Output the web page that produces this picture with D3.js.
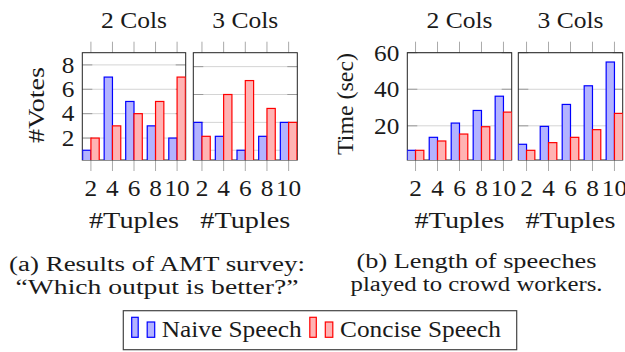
<!DOCTYPE html>
<html><head><meta charset="utf-8">
<script src="https://cdn.jsdelivr.net/npm/d3@7"></script>
<style>
html,body{margin:0;padding:0;background:#fff;}
</style></head>
<body><svg id="c" width="625" height="352"></svg>
<script>
// ---- data ----
const tuples = [2, 4, 6, 8, 10];
const panelTitles = ["2 Cols", "3 Cols"];
const seriesNames = ["Naive Speech", "Concise Speech"];
// (a) votes
const votes2Naive   = [1, 7, 5, 3, 2];
const votes2Concise = [2, 3, 4, 5, 7];
const votes3Naive   = [4, 3, 2, 3, 4];
const votes3Concise = [3, 6, 7, 5, 4];
const votesTicks2 = [2, 4, 6, 8];
const votesTicks3 = [2, 4, 6, 8];
// (b) time (sec)
const time2Naive   = [6.6, 13.7, 21.5, 28.4, 36.2];
const time2Concise = [6.6, 11.7, 15.5, 19.5, 27.5];
const time3Naive   = [9.9, 19.7, 31.7, 41.9, 54.9];
const time3Concise = [6.6, 10.8, 13.7, 17.9, 26.8];
const timeTicks = [20, 40, 60];
const captionA = ["(a) Results of AMT survey:", "\u201cWhich output is better?\u201d"];
const captionB = ["(b) Length of speeches", "played to crowd workers."];

const FONT = "'Liberation Serif', 'DejaVu Serif', serif";
const svg = d3.select("#c");
const BLUE = "#0000ff", BLUEF = "#b3b3ff", RED = "#ff0000", REDF = "#ffb3b3";
const FS = 23;
const pTop = 52.7, pBottom = 160;

function txt(sel) {
  return sel.style("font-family", FONT, "important").attr("font-family", FONT)
    .attr("fill", "#1a1a1a").attr("font-size", FS);
}
// stretch glyphs horizontally (Computer Modern is wider than Times)
function fitW(sel, w) {
  sel.each(function() {
    const L = this.getComputedTextLength();
    const target = (typeof w === "number") ? w : L * 1.1;
    if (L > 0) d3.select(this).attr("textLength", target).attr("lengthAdjust", "spacingAndGlyphs");
  });
  return sel;
}

function panel(id, x0, x1, xdom, ydom, ticks, naive, concise, showY) {
  const g = svg.append("g");
  const x = d3.scaleLinear().domain(xdom).range([x0, x1]);
  const y = d3.scaleLinear().domain(ydom).range([pBottom, pTop]);
  const bw = 8.3;
  g.append("clipPath").attr("id", id).append("rect")
    .attr("x", x0).attr("y", pTop).attr("width", x1 - x0).attr("height", pBottom - pTop);
  g.selectAll(".grid").data(ticks).join("line")
    .attr("x1", x0).attr("x2", x1).attr("y1", d => y(d)).attr("y2", d => y(d))
    .attr("stroke", "#d4d4d4").attr("stroke-width", 1);
  g.selectAll(".ytl").data(ticks).join("line")
    .attr("x1", x0).attr("x2", x0 + 10).attr("y1", d => y(d)).attr("y2", d => y(d))
    .attr("stroke", "#9a9a9a").attr("stroke-width", 1);
  g.selectAll(".ytr").data(ticks).join("line")
    .attr("x1", x1 - 10).attr("x2", x1).attr("y1", d => y(d)).attr("y2", d => y(d))
    .attr("stroke", "#9a9a9a").attr("stroke-width", 1);
  g.selectAll(".xtt").data(tuples).join("line")
    .attr("x1", d => x(d)).attr("x2", d => x(d)).attr("y1", pTop - 11).attr("y2", pTop)
    .attr("stroke", "#aaa").attr("stroke-width", 1);
  g.selectAll(".xtb").data(tuples).join("line")
    .attr("x1", d => x(d)).attr("x2", d => x(d)).attr("y1", pBottom).attr("y2", pBottom + 11)
    .attr("stroke", "#aaa").attr("stroke-width", 1);
  g.append("rect").attr("x", x0).attr("y", pTop).attr("width", x1 - x0).attr("height", pBottom - pTop)
    .attr("fill", "none").attr("stroke", "#222").attr("stroke-width", 1);
  const bars = g.append("g").attr("clip-path", `url(#${id})`);
  bars.selectAll(".bn").data(tuples).join("rect")
    .attr("x", d => x(d) - bw).attr("width", bw)
    .attr("y", (d, i) => y(naive[i])).attr("height", (d, i) => pBottom + 2 - y(naive[i]))
    .attr("fill", BLUEF).attr("stroke", BLUE).attr("stroke-width", 1.2);
  bars.selectAll(".bc").data(tuples).join("rect")
    .attr("x", d => x(d)).attr("width", bw)
    .attr("y", (d, i) => y(concise[i])).attr("height", (d, i) => pBottom + 2 - y(concise[i]))
    .attr("fill", REDF).attr("stroke", RED).attr("stroke-width", 1.2);
  fitW(txt(g.selectAll(".xl").data(tuples).join("text"))
    .attr("x", d => x(d)).attr("y", 196).attr("text-anchor", "middle").text(d => d));
  fitW(txt(g.append("text")).attr("x", (x0 + x1) / 2).attr("y", 228).attr("text-anchor", "middle")
    .text("#Tuples"), 90);
  if (showY) {
    fitW(txt(g.selectAll(".yl").data(ticks).join("text"))
      .attr("x", x0 - 8).attr("y", d => y(d)).attr("dy", "0.34em").attr("text-anchor", "end")
      .text(d => d));
  }
  return g;
}

panel("ca1", 82.3, 185.7, [1.2, 10.8], [0.2, 9], votesTicks2, votes2Naive, votes2Concise, true);
panel("ca2", 193.3, 297.3, [1.2, 10.8], [1.3, 9], votesTicks3, votes3Naive, votes3Concise, false);
panel("cb1", 407.3, 511.7, [1.25, 10.75], [1.3, 60], timeTicks, time2Naive, time2Concise, true);
panel("cb2", 518.3, 622.7, [1.25, 10.75], [1.3, 60], timeTicks, time3Naive, time3Concise, false);

[[134, panelTitles[0]], [245.3, panelTitles[1]], [459.5, panelTitles[0]], [570.5, panelTitles[1]]]
  .forEach(([cx, t]) => fitW(txt(svg.append("text")).attr("x", cx).attr("y", 28)
    .attr("text-anchor", "middle").text(t), 66));

fitW(txt(svg.append("text")).attr("transform", "translate(44,105) rotate(-90)").attr("text-anchor", "middle")
  .text("#Votes"), 76);
fitW(txt(svg.append("text")).attr("transform", "translate(353,104) rotate(-90)").attr("text-anchor", "middle")
  .text("Time (sec)"), 102);

function caption(cx, y1, lines, widths) {
  lines.forEach((l, i) => fitW(txt(svg.append("text")).attr("font-size", 20.5)
    .attr("text-anchor", "middle").attr("x", cx).attr("y", y1 + i * 23).text(l), widths[i]));
}
caption(157, 270.5, captionA, [296, 283]);
caption(476.5, 268, captionB, [240, 252]);

const lg = svg.append("g");
lg.append("rect").attr("x", 123.3).attr("y", 310.7).attr("width", 393.4).attr("height", 39)
  .attr("fill", "#fff").attr("stroke", "#444").attr("stroke-width", 1.2);
const legendItems = [
  {name: seriesNames[0], stroke: BLUE, fill: BLUEF, x: 131.7, tx: 161.7, w: 140},
  {name: seriesNames[1], stroke: RED, fill: REDF, x: 309.8, tx: 340, w: 161}
];
legendItems.forEach(it => {
  lg.append("rect").attr("x", it.x).attr("y", 317.3).attr("width", 6.5).attr("height", 20)
    .attr("fill", it.fill).attr("stroke", it.stroke).attr("stroke-width", 1.2);
  lg.append("rect").attr("x", it.x + 15.5).attr("y", 322).attr("width", 7.5).attr("height", 15.3)
    .attr("fill", it.fill).attr("stroke", it.stroke).attr("stroke-width", 1.2);
  fitW(txt(lg.append("text")).attr("x", it.tx).attr("y", 337.3).text(it.name), it.w);
});
</script></body></html>
